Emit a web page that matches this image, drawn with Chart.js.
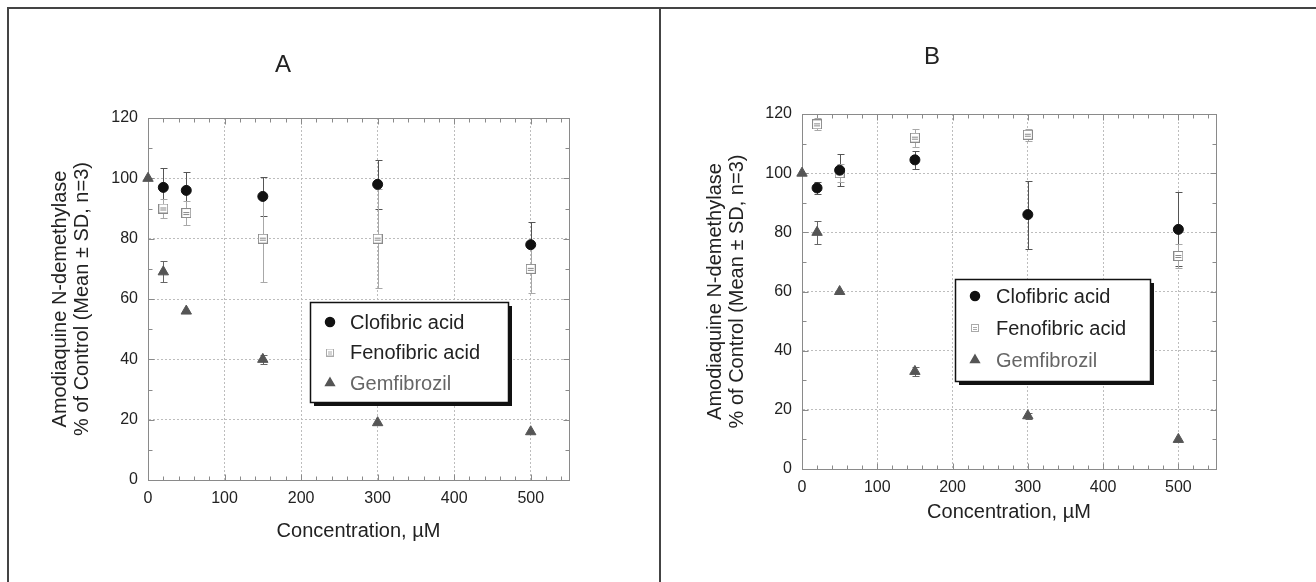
<!DOCTYPE html>
<html>
<head>
<meta charset="utf-8">
<script src="https://cdn.jsdelivr.net/npm/chart.js@4.4.1/dist/chart.umd.min.js"></script>
<style>
body { margin: 0; background: #fff; }
#frameTop { position: absolute; left: 7px; top: 7px; width: 1309px; height: 2px; background: #444; }
#frameLeft { position: absolute; left: 7px; top: 7px; width: 2px; height: 575px; background: #444; }
#divider { position: absolute; left: 659px; top: 7px; width: 2px; height: 575px; background: #444; }
.panel { position: absolute; top: 9px; }
#panelA { left: 9px; }
#panelB { left: 661px; }
</style>
</head>
<body>
<div id="frameTop"></div>
<div id="frameLeft"></div>
<div id="divider"></div>
<div class="panel" id="panelA"><canvas id="chartA" width="650" height="573"></canvas></div>
<div class="panel" id="panelB"><canvas id="chartB" width="655" height="573"></canvas></div>
<script>
// --- data ---
const xTicks = [0, 100, 200, 300, 400, 500];
const yTicks = [0, 20, 40, 60, 80, 100, 120];

// panel A
const concA = [20, 50, 150, 300, 500];
const concGemA = [0, 20, 50, 150, 300, 500];
const clofibricA = [97, 96, 94, 98, 78];
const clofibricSdA = [6.5, 6, 6.5, 8, 7.5];
const fenofibricA = [90, 88.5, 80, 80, 70];
const fenofibricSdA = [3, 4, 14.5, 16.5, 8];
const gemfibrozilA = [100, 69, 56, 40, 19, 16];
const gemfibrozilSdA = [0, 3.5, 0, 1.5, 0, 0];

// panel B
const concB = [20, 50, 150, 300, 500];
const concGemB = [0, 20, 50, 150, 300, 500];
const clofibricB = [95, 101, 104.5, 86, 81];
const clofibricSdB = [2, 5.5, 3, 11.5, 12.5];
const fenofibricB = [116.5, 100, 112, 113, 72];
const fenofibricSdB = [2, 3, 3, 2, 4];
const gemfibrozilB = [100, 80, 60, 33, 18, 10];
const gemfibrozilSdB = [0, 4, 0, 1.5, 1, 0];

const FONT = '"Liberation Sans", Arial, sans-serif';

function squareMarker(size, color) {
    const c = document.createElement('canvas');
    c.width = size; c.height = size;
    const g = c.getContext('2d');
    g.fillStyle = '#fff';
    g.fillRect(0, 0, size, size);
    g.strokeStyle = color;
    g.lineWidth = 1;
    g.strokeRect(0.5, 0.5, size - 1, size - 1);
    g.beginPath();
    const y1 = Math.floor(size * 0.4) + 0.5, y2 = Math.floor(size * 0.65) + 0.5;
    g.moveTo(2, y1); g.lineTo(size - 2, y1);
    g.moveTo(2, y2); g.lineTo(size - 2, y2);
    g.stroke();
    return c;
}
const squareBig = squareMarker(10, '#8a8a8a');
const squareSmall = squareMarker(8, '#aaa');

function pts(xs, ys) {
    return xs.map((x, i) => ({ x: x, y: ys[i] }));
}

// error bars under the markers
const errorBars = {
    id: 'errorBars',
    beforeDatasetsDraw(chart) {
        const { ctx, scales: { x, y } } = chart;
        chart.data.datasets.forEach(ds => {
            if (!ds.sd) return;
            ctx.save();
            ctx.strokeStyle = ds.errorColor;
            ctx.lineWidth = 1;
            ds.data.forEach((p, j) => {
                const e = ds.sd[j];
                if (!e) return;
                const px = Math.round(x.getPixelForValue(p.x)) + 0.5;
                const top = Math.round(y.getPixelForValue(p.y + e)) + 0.5;
                const bot = Math.round(y.getPixelForValue(p.y - e)) + 0.5;
                ctx.beginPath();
                ctx.moveTo(px, top); ctx.lineTo(px, bot);
                ctx.moveTo(px - 3, top); ctx.lineTo(px + 4, top);
                ctx.moveTo(px - 3, bot); ctx.lineTo(px + 4, bot);
                ctx.stroke();
            });
            ctx.restore();
        });
    }
};

// box around the plot with inward ticks on every side
const plotFrame = {
    id: 'plotFrame',
    beforeDatasetsDraw(chart) {
        const { ctx, chartArea: a, scales: { x, y } } = chart;
        ctx.save();
        ctx.strokeStyle = '#8a8a8a';
        ctx.lineWidth = 1;
        const L = Math.round(a.left) + 0.5, R = Math.round(a.right) + 0.5;
        const T = Math.round(a.top) + 0.5, B = Math.round(a.bottom) + 0.5;
        ctx.strokeRect(L, T, R - L, B - T);
        ctx.beginPath();
        for (let v = 0; v < x.max; v += 20) {
            const px = Math.round(x.getPixelForValue(v)) + 0.5;
            const len = v % 100 === 0 ? 6 : 4;
            ctx.moveTo(px, B); ctx.lineTo(px, B - len);
            ctx.moveTo(px, T); ctx.lineTo(px, T + len);
        }
        for (let v = 0; v <= y.max; v += 10) {
            const py = Math.round(y.getPixelForValue(v)) + 0.5;
            const len = v % 20 === 0 ? 6 : 4;
            ctx.moveTo(L, py); ctx.lineTo(L + len, py);
            ctx.moveTo(R, py); ctx.lineTo(R - len, py);
        }
        ctx.stroke();
        ctx.restore();
    }
};

// panel letter and boxed legend with shadow
const panelDeco = {
    id: 'panelDeco',
    afterDraw(chart, args, opts) {
        const ctx = chart.ctx;
        ctx.save();
        ctx.fillStyle = '#222';
        ctx.font = '24px ' + FONT;
        ctx.textAlign = 'center';
        ctx.textBaseline = 'middle';
        ctx.fillText(opts.letter, opts.letterX, opts.letterY);

        const b = opts.box;
        ctx.fillStyle = '#111';
        ctx.fillRect(b.left + 4, b.top + 4, b.width, b.height);
        ctx.fillStyle = '#fff';
        ctx.fillRect(b.left, b.top, b.width, b.height);
        ctx.strokeStyle = '#111';
        ctx.lineWidth = 1.5;
        ctx.strokeRect(b.left + 0.5, b.top + 0.5, b.width, b.height);

        ctx.textAlign = 'left';
        ctx.font = '20px ' + FONT;
        chart.data.datasets.forEach((ds, i) => {
            const cy = b.top + b.rowTop + i * b.rowGap;
            const cx = b.left + b.markerX;
            ctx.fillStyle = ds.backgroundColor;
            ctx.strokeStyle = ds.borderColor;
            Chart.helpers.drawPoint(ctx, {
                pointStyle: ds.legendStyle || ds.pointStyle,
                radius: ds.legendRadius,
                borderWidth: 1,
                rotation: 0
            }, cx, cy);
            ctx.fillStyle = ds.legendColor;
            ctx.fillText(ds.label, b.left + b.textX, cy + 1);
        });
        ctx.restore();
    }
};

function makeDatasets(xc, xg, clo, cloSd, feno, fenoSd, gem, gemSd) {
    return [
        {
            label: 'Clofibric acid',
            data: pts(xc, clo), sd: cloSd, errorColor: '#555',
            pointStyle: 'circle', pointRadius: 5, pointBorderWidth: 1,
            backgroundColor: '#111', borderColor: '#111',
            legendRadius: 4.5, legendColor: '#222', clip: false
        },
        {
            label: 'Fenofibric acid',
            data: pts(xc, feno), sd: fenoSd, errorColor: '#a8a8a8',
            pointStyle: squareBig, legendStyle: squareSmall, pointRadius: 5,
            backgroundColor: '#fff', borderColor: '#999',
            legendRadius: 4, legendColor: '#222', clip: false
        },
        {
            label: 'Gemfibrozil',
            data: pts(xg, gem), sd: gemSd, errorColor: '#666',
            pointStyle: 'triangle', pointRadius: 6, pointBorderWidth: 1,
            backgroundColor: '#555', borderColor: '#555',
            legendRadius: 5, legendColor: '#666', clip: false
        }
    ];
}

function makeChart(id, datasets, L) {
    return new Chart(document.getElementById(id), {
        type: 'scatter',
        data: { datasets: datasets },
        plugins: [plotFrame, errorBars, panelDeco],
        options: {
            responsive: false,
            animation: false,
            events: [],
            layout: { padding: L.padding },
            scales: {
                x: {
                    type: 'linear', min: 0, max: 550,
                    afterBuildTicks: s => { s.ticks = xTicks.map(v => ({ value: v })); },
                    afterFit: s => { s.height = L.xHeight; },
                    grid: { color: '#bdbdbd', drawTicks: false },
                    border: { display: true, color: '#8a8a8a', dash: [2, 2] },
                    ticks: { color: '#222', padding: L.xTickPad, font: { family: FONT, size: 16 } },
                    title: {
                        display: true, text: 'Concentration, \u00b5M', color: '#222',
                        padding: 0, font: { family: FONT, size: 20, lineHeight: 1.1 }
                    }
                },
                y: {
                    type: 'linear', min: 0, max: 120,
                    afterBuildTicks: s => { s.ticks = yTicks.map(v => ({ value: v })); },
                    afterFit: s => { s.width = L.yWidth; },
                    grid: { color: '#bdbdbd', drawTicks: false },
                    border: { display: true, color: '#8a8a8a', dash: [2, 2] },
                    ticks: { color: '#222', padding: 10, font: { family: FONT, size: 16 } },
                    title: {
                        display: true,
                        text: ['Amodiaquine N-demethylase', '% of Control (Mean \u00b1 SD, n=3)'],
                        color: '#222', padding: 0,
                        font: { family: FONT, size: 20, lineHeight: 1.1 }
                    }
                }
            },
            plugins: {
                legend: { display: false },
                tooltip: { enabled: false },
                panelDeco: L.deco
            }
        }
    });
}

makeChart('chartA',
    makeDatasets(concA, concGemA, clofibricA, clofibricSdA, fenofibricA, fenofibricSdA, gemfibrozilA, gemfibrozilSdA),
    {
        padding: { left: 40, top: 109, right: 90, bottom: 40 },
        yWidth: 99, xHeight: 62, xTickPad: 9,
        deco: {
            letter: 'A', letterX: 274, letterY: 56,
            box: { left: 301, top: 293, width: 198, height: 100, rowTop: 20, rowGap: 30.5, markerX: 20, textX: 40 }
        }
    });

makeChart('chartB',
    makeDatasets(concB, concGemB, clofibricB, clofibricSdB, fenofibricB, fenofibricSdB, gemfibrozilB, gemfibrozilSdB),
    {
        padding: { left: 43, top: 105, right: 100, bottom: 59 },
        yWidth: 98, xHeight: 54, xTickPad: 9,
        deco: {
            letter: 'B', letterX: 271, letterY: 48,
            box: { left: 294, top: 270, width: 195, height: 102, rowTop: 17, rowGap: 32, markerX: 20, textX: 41 }
        }
    });
</script>
</body>
</html>
